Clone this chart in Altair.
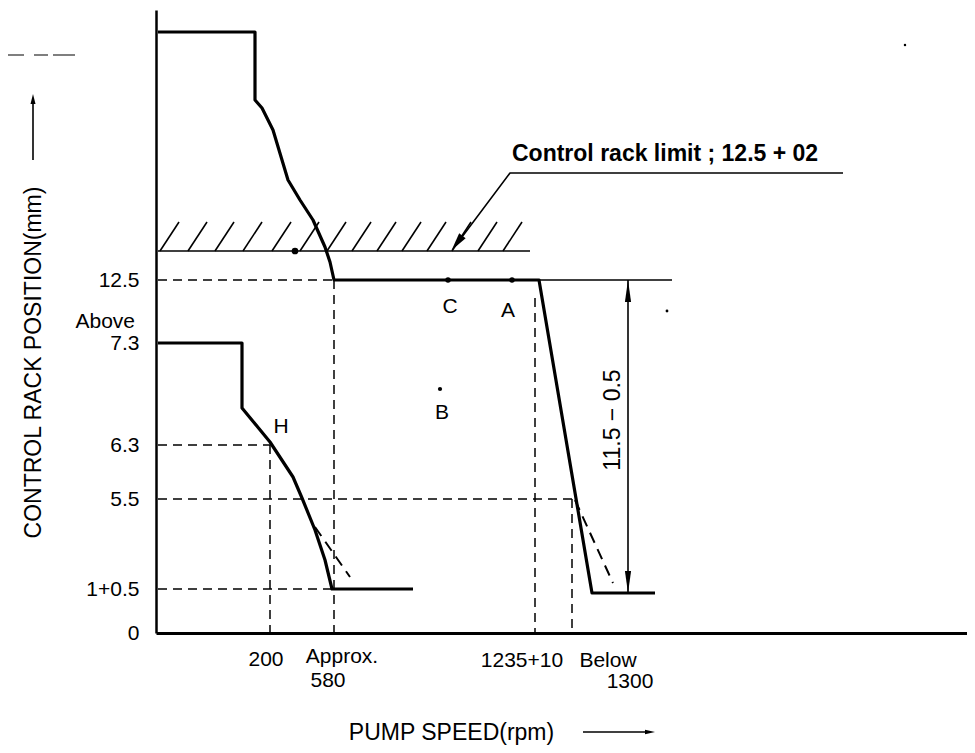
import altair as alt
import pandas as pd

# ---- schematic drawing units: origin at the axes corner ----
X_MAX = 811
Y_MAX = 623
FONT = "Liberation Sans"

# characteristic curves (schematic)
upper_u = [2, 99, 99, 106, 117, 132, 144, 157, 169, 174, 178, 383, 436, 499]
upper_v = [601, 601, 533, 525, 503, 453, 433, 413, 386, 371, 353, 353, 40, 40]
lower_u = [2, 86, 86, 114, 137, 146, 159, 169, 176, 257]
lower_v = [290, 290, 225, 191, 156, 135, 103, 73, 44, 44]
alt_upper_u = [419, 457]
alt_upper_v = [133, 50]
alt_lower_u = [159, 194]
alt_lower_v = [106, 56]

# dashed guide lines (u1, v1, u2, v2)
guides = [(2, 353, 178, 353), (2, 188, 114, 188), (2, 134, 419, 134), (2, 44, 176, 44),
          (114, 188, 114, 0), (178, 353, 178, 0), (379, 335, 379, 0), (416, 134, 416, 0)]

# control rack limit line and hatching
limit_line = (2, 382, 374, 382)
hatch_bottoms = [4, 32, 59, 87, 116, 144, 171, 196, 221, 246, 271, 296, 322, 347]
hatch_rise = (19, 29)

# thin lines: leader, dimension line, extension line, title arrows
thin_lines = [
    [(687, 460), (354, 460), (300, 388)],      # leader
    [(383, 353), (516, 353)],                  # extension at 12.5
    [(472, 353), (472, 40)],                   # dimension line
    [(-123, 473), (-123, 532)],                # y title arrow
    [(427, -99), (494, -99)],                  # x title arrow
]
artifact_line = [(-156, 578), (-81, 578)]

# y axis labels
y_tick_values = [0, 44, 134, 188, 290, 353]
y_tick_labels = ["0", "1+0.5", "5.5", "6.3", "7.3", "12.5"]

# x labels (text, u, v)
x_labels = [("200", 110, -27), ("Approx.", 186, -24), ("580", 172, -48),
            ("1235+10", 366, -28), ("Below", 452, -28), ("1300", 474, -49)]

# annotation texts (text, u, v, align, angle, size, weight)
notes = [("Above", -21, 311, "right", 0, 21, "normal"),
         ("Control rack limit ; 12.5 + 02", 356, 479, "left", 0, 23, "bold"),
         ("C", 294, 326, "center", 0, 21, "normal"), ("A", 352, 322, "center", 0, 21, "normal"),
         ("B", 286, 220, "center", 0, 21, "normal"), ("H", 125, 206, "center", 0, 21, "normal"),
         ("11.5 − 0.5", 457, 213, "center", 270, 23, "normal")]

# dots (u, v, size)
dots = [(139, 382, 45), (292, 353, 30), (356, 353, 30), (284, 244, 18),
        (511, 322, 8), (749, 588, 6)]

# arrowheads (u, v, shape, size, angle)
UP = "M0,-1L0.28,1L-0.28,1Z"
arrowheads = [(472, 342, UP, 484, 0), (472, 51, UP, 484, 180),
              (-123, 534, "M0,-1L0.5,1L-0.5,1Z", 100, 0),
              (494, -99, "M0,-1L0.45,1L-0.45,1Z", 100, 90),
              (301, 390, "M0,-1L0.45,1L-0.45,1Z", 324, 217)]

# ---- build tables ----
def seg_rows(points, grp):
    return [{"u": p[0], "v": p[1], "grp": grp, "o": i} for i, p in enumerate(points)]

thick_rows = seg_rows(list(zip(upper_u, upper_v)), "upper") + seg_rows(list(zip(lower_u, lower_v)), "lower")
altc_rows = seg_rows(list(zip(alt_upper_u, alt_upper_v)), "au") + seg_rows(list(zip(alt_lower_u, alt_lower_v)), "al")
guide_rows = []
for k, g in enumerate(guides):
    guide_rows += seg_rows([(g[0], g[1]), (g[2], g[3])], f"g{k}")
thin_rows = seg_rows([(limit_line[0], limit_line[1]), (limit_line[2], limit_line[3])], "limit")
for k, b in enumerate(hatch_bottoms):
    thin_rows += seg_rows([(b, limit_line[1]), (b + hatch_rise[0], limit_line[1] + hatch_rise[1])], f"h{k}")
for k, pts in enumerate(thin_lines):
    thin_rows += seg_rows(pts, f"t{k}")
art_rows = seg_rows(artifact_line, "art")

xs = alt.Scale(domain=[0, X_MAX], nice=False, zero=False)
ys = alt.Scale(domain=[0, Y_MAX], nice=False, zero=False)

label_expr = " : ".join(
    [f"datum.value == {v} ? '{t}'" for v, t in zip(y_tick_values, y_tick_labels)]
) + " : ''"

x_axis = alt.Axis(
    values=[0], labels=False, ticks=False, grid=False, domainWidth=3, domainColor="black",
    title="PUMP SPEED(rpm)", titleFont=FONT, titleFontSize=23, titleFontWeight="normal",
    titleX=295, titleY=99, titleAlign="center", titleBaseline="middle", titleColor="black")
y_axis = alt.Axis(
    values=y_tick_values, labelExpr=label_expr, ticks=False, grid=False,
    domainWidth=2.5, domainColor="black", labelFont=FONT, labelFontSize=21,
    labelColor="black", labelPadding=17, labelAlign="right", labelBaseline="middle",
    labelOverlap=False, labelBound=False, labelFlush=False,
    title="CONTROL RACK POSITION(mm)", titleFont=FONT, titleFontSize=23,
    titleFontWeight="normal", titleAngle=270, titleX=-123, titleY=352,
    titleAlign="center", titleBaseline="middle", titleColor="black")


def X():
    return alt.X("u:Q", scale=xs, axis=x_axis)


def Y():
    return alt.Y("v:Q", scale=ys, axis=y_axis)


def line_layer(rows, width, dash=None):
    kw = dict(strokeWidth=width, color="black", strokeCap="butt", strokeJoin="round")
    if dash:
        kw["strokeDash"] = dash
    return alt.Chart(pd.DataFrame(rows)).mark_line(**kw).encode(
        x=X(), y=Y(), detail="grp:N", order="o:Q",
    )


thick = line_layer(thick_rows, 3.2)
altc = line_layer(altc_rows, 2, [11, 7])
guide = line_layer(guide_rows, 1.5, [9, 6])
thin = line_layer(thin_rows, 1.6)
art = line_layer(art_rows, 1.2, [24, 10, 14, 5])

dots_df = pd.DataFrame(dots, columns=["u", "v", "s"])
dot_layer = alt.Chart(dots_df).mark_circle(color="black", opacity=1).encode(
    x=X(), y=Y(), size=alt.Size("s:Q", scale=None, legend=None),
)

arrow_layers = []
for (u, v, shp, sz, ang) in arrowheads:
    arrow_layers.append(
        alt.Chart(pd.DataFrame({"u": [u], "v": [v]})).mark_point(
            shape=shp, size=sz, angle=ang, filled=True, color="black", opacity=1, strokeWidth=0
        ).encode(x=X(), y=Y())
    )

xl_df = pd.DataFrame(x_labels, columns=["t", "u", "v"])
xl_layer = alt.Chart(xl_df).mark_text(
    font=FONT, fontSize=21, color="black", align="center", baseline="middle"
).encode(x=X(), y=Y(), text="t:N")

note_layers = []
for (t, u, v, al, ang, fs, fw) in notes:
    note_layers.append(
        alt.Chart(pd.DataFrame({"t": [t], "u": [u], "v": [v]})).mark_text(
            font=FONT, fontSize=fs, fontWeight=fw, color="black", align=al,
            baseline="middle", angle=ang
        ).encode(x=X(), y=Y(), text="t:N")
    )

chart = alt.layer(
    thick, altc, guide, thin, art, dot_layer, xl_layer, *arrow_layers, *note_layers
).properties(
    width=X_MAX, height=Y_MAX, background="white",
    autosize=alt.AutoSizeParams(type="none"),
    padding={"left": 148, "top": 2, "right": 0, "bottom": 112},
).configure_view(stroke=None)

chart.save("out.html", embed_options={"renderer": "svg", "actions": False})
